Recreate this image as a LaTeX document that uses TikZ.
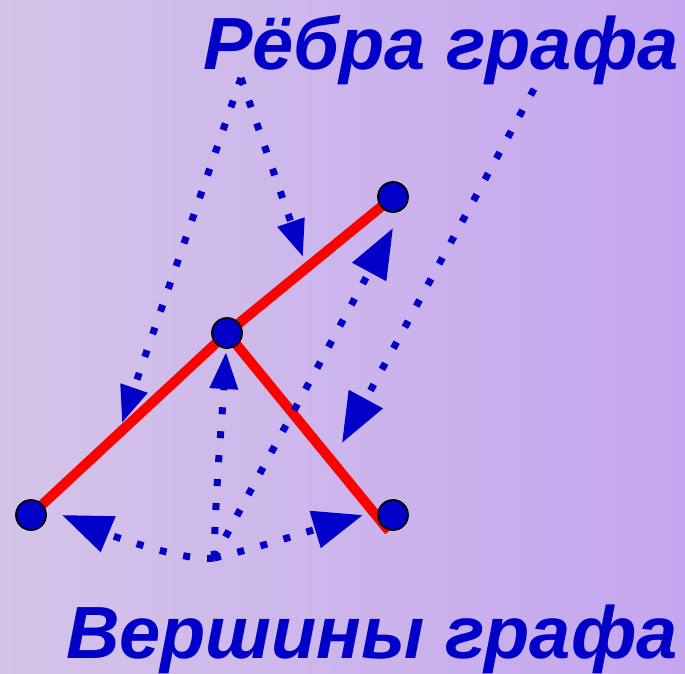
\documentclass[tikz,border=0pt]{standalone}
\usepackage{fontspec}
\newfontfamily\graphFont{Liberation Sans}
\usetikzlibrary{arrows.meta}

\begin{document}
\begin{tikzpicture}[x=1pt, y=-1pt,
    vertex/.style={circle, fill=vertexColour, draw=black, line width=1.8pt, minimum size=30pt, inner sep=0pt},
    edge/.style={edgeColour, line width=10pt},
    pointer/.style={vertexColour, line width=7pt, dash pattern=on 7pt off 17pt},
    smallTip/.style={-{Triangle[length=37pt,width=27pt]}},
    bigTip/.style={-{Triangle[length=50pt,width=37pt]}},
    caption/.style={text=vertexColour, inner sep=0pt, anchor=base east,
        font=\graphFont\bfseries\itshape\fontsize{74}{74}\selectfont}]

    \definecolor{vertexColour}{HTML}{0000C8}
    \definecolor{edgeColour}{HTML}{FF0000}
    \definecolor{leftColour}{HTML}{D4C4E8}
    \definecolor{rightColour}{HTML}{C4A6F0}

    % Background
    \shade[left color=leftColour, right color=rightColour] (0,0) rectangle (685,673);
    \useasboundingbox (0,0) rectangle (685,673);

    % Labels
    \node[caption] (edgesLabel) at (679,69) {Рёбра графа};
    \node[caption] (verticesLabel) at (678,658) {Вершины графа};

    % Graph vertices
    \coordinate (pTopRight) at (393,197);
    \coordinate (pMiddle) at (227,333);
    \coordinate (pLeft) at (31,515);
    \coordinate (pRight) at (393,515);
    \coordinate (rightEnd) at (389,531);

    % Edges
    \draw[edge] (pLeft) -- (pMiddle) -- (pTopRight);
    \draw[edge] (pMiddle) -- (rightEnd);

    \node[vertex] (vTopRight) at (pTopRight) {};
    \node[vertex] (vMiddle) at (pMiddle) {};
    \node[vertex] (vLeft) at (pLeft) {};
    \node[vertex] (vRight) at (pRight) {};

    % Pointers from the label "edges"
    \coordinate (edgesHub) at (241,78);
    \coordinate (edgesSide) at (534,89);
    \coordinate (tipLeftEdge) at (122,423);
    \coordinate (tipTopEdge) at (303,257);
    \coordinate (tipRightEdge) at (342,443);

    \draw[pointer, smallTip] (edgesHub) -- (tipLeftEdge);
    \draw[pointer, smallTip] (edgesHub) -- (tipTopEdge);
    \draw[pointer, bigTip] (edgesSide) -- (tipRightEdge);

    % Pointers from the label "vertices"
    \coordinate (verticesHub) at (214,558);
    \coordinate (tipMiddle) at (226,352);
    \coordinate (tipTopRight) at (393,228);
    \coordinate (tipLeft) at (62,515);
    \coordinate (tipRight) at (363,515);

    \draw[pointer, smallTip] (verticesHub) .. controls (216,480) and (222,420) .. (tipMiddle);
    \draw[pointer, bigTip] (verticesHub) -- (tipTopRight);
    \draw[pointer, bigTip] (verticesHub) .. controls (185,562) and (110,535) .. (tipLeft);
    \draw[pointer, bigTip] (verticesHub) .. controls (250,550) and (300,534) .. (tipRight);

\end{tikzpicture}
\end{document}
